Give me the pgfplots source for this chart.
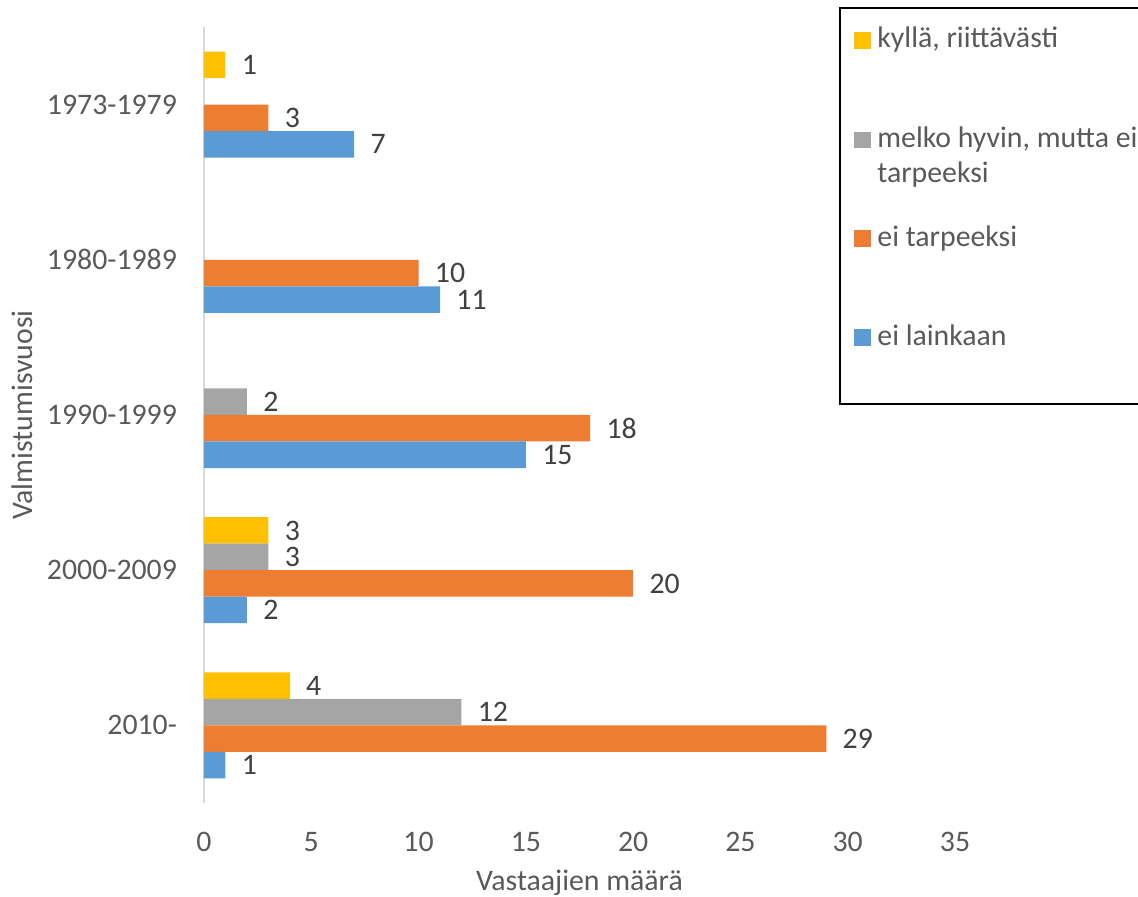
\documentclass[border=0pt]{standalone}
\usepackage{fontspec}
\setmainfont{Carlito}
\usepackage{pgfplots}
\pgfplotsset{compat=1.18}
\definecolor{cblue}{HTML}{5B9BD5}
\definecolor{corange}{HTML}{ED7D31}
\definecolor{cgray}{HTML}{A5A5A5}
\definecolor{cyellow}{HTML}{FFC000}
\definecolor{axgray}{HTML}{D9D9D9}
\definecolor{txt}{HTML}{595959}
\definecolor{lbl}{HTML}{404040}
\newcommand\ff{\fontsize{14.9pt}{17.8pt}\selectfont}
\begin{document}
\begin{tikzpicture}
\begin{axis}[
  at={(0,0)}, anchor=south west,
  scale only axis,
  width=375.5pt, height=388pt,
  xbar, bar width=13.25pt,
  xmin=0, xmax=35, ymin=-0.5, ymax=4.5,
  xtick={0,5,...,35},
  ytick={0,1,2,3,4},
  yticklabels={2010-,2000-2009,1990-1999,1980-1989,1973-1979},
  axis y line*=left, axis x line*=bottom,
  x axis line style={draw=none},
  y axis line style={draw=axgray, line width=1pt, -},
  major tick length=0pt,
  tick style={draw=none},
  ticklabel style={font=\ff, text=txt},
  xticklabel style={yshift=-11pt},
  yticklabel style={xshift=-10pt},
  /pgf/number format/assume math mode=true,
  xlabel={Vastaajien määrä}, ylabel={Valmistumisvuosi},
  label style={font=\ff, text=txt},
  xlabel style={at={(axis description cs:0.5,-0.1025)}, anchor=center},
  ylabel style={at={(axis description cs:-0.2423,0.5)}, anchor=center},
  point meta=x,
  nodes near coords={\pgfmathprintnumber[assume math mode=true]{\pgfplotspointmeta}},
  every node near coord/.append style={font=\ff, text=lbl, anchor=west, inner sep=0pt, xshift=8pt},
]
\addplot[fill=cyellow, draw=none, bar shift=19.875pt] coordinates {(1,4) (3,1) (4,0)};
\addplot[fill=cgray, draw=none, bar shift=6.625pt] coordinates {(2,2) (3,1) (12,0)};
\addplot[fill=corange, draw=none, bar shift=-6.625pt] coordinates {(3,4) (10,3) (18,2) (20,1) (29,0)};
\addplot[fill=cblue, draw=none, bar shift=-19.875pt] coordinates {(7,4) (11,3) (15,2) (2,1) (1,0)};
\end{axis}
\begin{scope}[shift={(-102pt,401.5pt)}, x=0.5pt, y=-0.5pt]
  \draw[black, line width=0.75pt] (840,8) rectangle (1170,404);
  \fill[cyellow] (854,32) rectangle (871,49);
  \fill[cgray] (854,132) rectangle (871,148);
  \fill[corange] (854,230) rectangle (871,247);
  \fill[cblue] (854,329) rectangle (871,346);
  \node[anchor=base west, inner sep=0pt, text=txt, font=\ff] at (877,48) {kyllä, riittävästi};
  \node[anchor=base west, inner sep=0pt, text=txt, font=\ff] at (877,148) {melko hyvin, mutta ei};
  \node[anchor=base west, inner sep=0pt, text=txt, font=\ff] at (877,183) {tarpeeksi};
  \node[anchor=base west, inner sep=0pt, text=txt, font=\ff] at (877,247) {ei tarpeeksi};
  \node[anchor=base west, inner sep=0pt, text=txt, font=\ff] at (877,346) {ei lainkaan};
\end{scope}
\pgfresetboundingbox
\path[shift={(-102pt,401.5pt)}, x=0.5pt, y=-0.5pt] (0,0) rectangle (1138,897);
\end{tikzpicture}
\end{document}
